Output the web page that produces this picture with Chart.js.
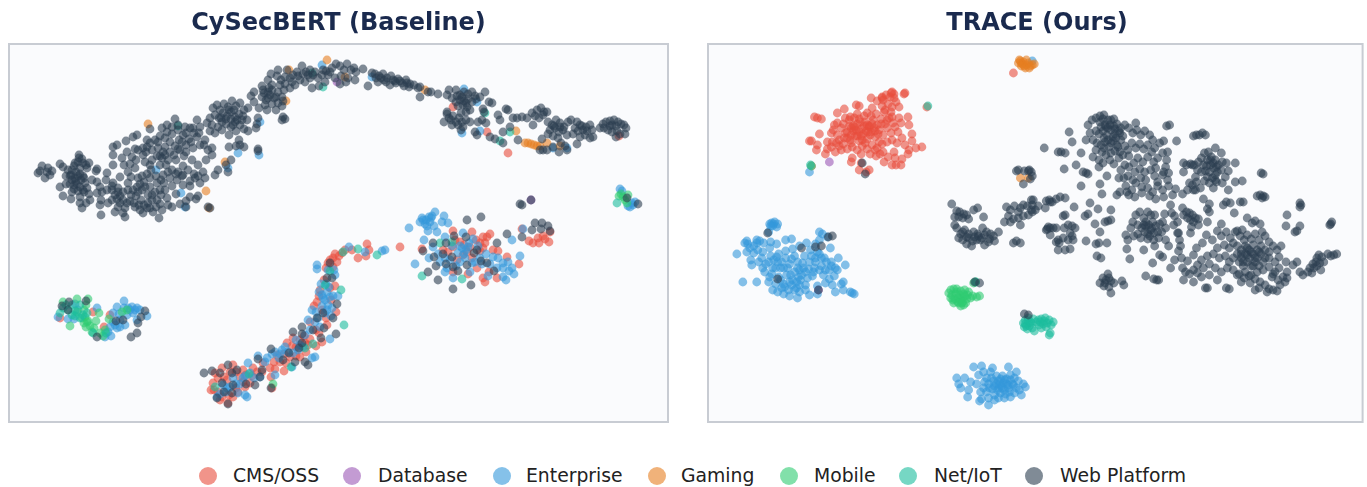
<!DOCTYPE html>
<html>
<head>
<meta charset="utf-8">
<title>CySecBERT vs TRACE</title>
<script src="https://cdn.jsdelivr.net/npm/chart.js@4/dist/chart.umd.min.js"></script>
<style>
  body { margin: 0; background: #fff; font-family: "DejaVu Sans", sans-serif; }
  .panel { position: absolute; top: 0; height: 440px; }
  #legend span { position: absolute; top: 465px; font-size: 18.8px; line-height: 22px; color: #222; white-space: nowrap; }
  #legend i { position: absolute; top: 467px; width: 18px; height: 18px; border-radius: 50%; }
</style>
</head>
<body>
<div class="panel" style="left:0;width:678px"><canvas id="left"></canvas></div>
<div class="panel" style="left:698px;width:669px"><canvas id="right"></canvas></div>
<div id="legend"></div>
<script>
const categories = ["CMS/OSS", "Database", "Enterprise", "Gaming", "Mobile", "Net/IoT", "Web Platform"];
const colors = ["231,76,60", "155,89,182", "52,152,219", "230,126,34", "46,204,113", "26,188,156", "44,62,80"];
const titles = ["CySecBERT (Baseline)", "TRACE (Ours)"];

// embedding coordinates (y grows downwards)
const baseCms = [[333,258],[337,262],[333,267],[339,256],[328,263],[320,290],[317,302],[322,310],[331,300],[326,318],[336,312],[322,342],[310,339],[316,330],[293,338],[287,343],[300,357],[280,362],[263,363],[253,368],[243,370],[233,365],[275,369],[284,371],[271,377],[215,373],[213,383],[211,390],[227,380],[245,387],[233,397],[228,403],[220,400],[240,377],[250,383],[272,388],[222,368],[238,392],[296,347],[306,352],[290,357],[277,355],[257,372],[218,392],[224,377],[246,375],[310,322],[304,336],[316,346],
  [335,254],[342,253],[330,260],[326,268],[345,250],[352,250],[324,280],[319,296],[314,306],[330,288],[335,286],[327,325],[319,333],[308,345],[300,340],[292,346],[284,354],[270,368],[262,372],[252,376],[236,372],[230,372],[218,378],[214,390],[222,397],[236,388],[243,382],[229,395],[296,356],[286,363],[274,362],[305,343],
  [400,247],[483,237],[487,237],[490,234],[472,232],[453,231],[422,249],[443,250],[460,242],[480,243],[483,248],[493,250],[498,251],[467,252],[453,247],[457,260],[477,268],[468,274],[483,278],[497,278],[519,264],[507,257],[489,272],[453,272],[529,241],[538,238],[539,243],[545,239],[549,242],[550,232],[522,229],[367,244],[369,250],[366,256],[358,258],[464,245],[470,247],[448,252],[476,240],[485,243],[480,251],[455,240],[463,255],[472,258],[485,282],[543,236],[533,243],
  [60,318],[93,312],[110,315],[104,327],[453,107],[487,132],[508,153],[619,136]];
const baseDb = [[337,82],[531,200]];
const baseEnt = [[317,265],[317,269],[327,292],[330,297],[322,295],[328,305],[312,310],[325,313],[308,320],[320,327],[330,339],[315,357],[312,358],[300,345],[293,353],[282,350],[275,352],[267,358],[258,356],[248,363],[275,375],[260,377],[250,373],[238,393],[247,397],[230,387],[217,397],[223,385],[292,367],[328,270],[335,275],[319,292],[325,300],[332,308],[318,318],[305,335],[296,340],[288,352],[279,358],[243,378],[233,378],[227,388],[240,384],[326,284],[338,296],
  [329,287],[323,298],[327,310],[333,296],[322,306],[315,322],[310,330],[303,347],[298,350],[285,347],[280,354],[272,354],[265,362],[254,378],[245,376],[236,384],[226,392],[220,394],[245,395],[334,270],[321,284],[331,316],[316,312],
  [435,212],[422,218],[420,222],[426,220],[430,222],[428,231],[437,232],[442,222],[444,216],[448,223],[409,228],[424,240],[415,264],[433,247],[429,258],[445,272],[453,278],[445,237],[463,233],[473,239],[462,248],[458,253],[465,258],[470,272],[480,258],[493,257],[498,258],[497,268],[503,268],[508,262],[512,268],[514,274],[503,277],[506,280],[488,276],[520,256],[512,240],[523,229],[385,250],[382,251],[365,252],[349,247],[432,216],[425,224],[429,217],[434,226],[438,254],[450,260],[456,266],[452,246],[469,243],[475,262],[486,254],[468,247],[460,262],[445,258],[503,263],[509,271],[478,246],
  [431,218],[427,226],[423,220],[466,250],[460,246],[464,254],[472,263],[440,262],[447,268],[482,264],[490,264],
  [58,317],[68,319],[78,310],[74,319],[97,308],[124,301],[117,307],[113,313],[132,307],[137,308],[133,313],[147,316],[117,328],[125,325],[111,336],[105,337],[120,320],[115,325],[137,320],[128,308],[140,310],[75,304],[127,315],[119,314],[110,327],[130,310],[135,310],[124,308],[113,322],[120,327],[108,332],
  [620,189],[622,191],[632,203],[635,202],[630,207],[633,205],[628,206],
  [156,170],[181,193],[185,207],[238,153],[259,155],[260,122],[322,65],[228,168],[464,89],[477,102],[462,133],[480,131],[372,77],[553,148],[567,148]];
const baseGame = [[148,124],[206,191],[225,162],[209,208],[286,101],[289,70],[327,60],[525,143],[528,143],[531,144],[534,145],[537,146],[540,146],[547,143],[560,146],[516,131],[425,90],[345,77]];
const baseMob = [[63,302],[77,299],[88,299],[86,305],[70,326],[82,318],[86,327],[99,313],[96,321],[92,332],[105,330],[109,319],[122,312],[127,310],[85,317],[88,321],[103,336],[77,312],[84,310],[90,326],[100,333],[87,322],[84,323],[94,328],[619,196],[628,195],[627,203],[623,197],[625,200],[621,194],[273,384]];
const baseNet = [[60,313],[63,308],[72,305],[72,315],[80,318],[87,313],[68,310],[93,333],[106,333],[75,311],[80,305],[66,305],[75,316],[83,315],[617,203],[249,374],[215,387],[313,344],[291,367],[305,348],[330,271],[325,285],[422,276],[462,279],[452,242],[440,243],[377,255],[358,249],[343,252],[344,325],[341,290],[178,126],[323,87],[312,73],[485,113],[500,141],[510,132]];
const baseWeb = [[38,173],[40,171],[42,166],[48,168],[50,175],[45,178],[47,172],[52,171],[60,164],[63,167],[68,170],[72,180],[79,155],[79,158],[75,163],[83,163],[89,163],[80,168],[87,168],[97,169],[96,171],[74,185],[80,187],[87,188],[60,187],[63,196],[71,199],[80,197],[80,203],[82,208],[90,200],[86,203],[97,182],[100,187],[97,193],[101,200],[100,205],[101,215],[107,173],[106,180],[113,165],[113,183],[115,195],[108,203],[115,212],[123,213],[125,217],[120,177],[128,183],[137,187],[127,203],[135,207],[140,210],[147,208],[143,213],[159,218],[153,212],[162,210],[168,205],[172,207],[157,200],[148,195],[157,183],[163,175],[147,174],[135,168],[128,172],[113,155],[113,147],[117,145],[126,141],[133,137],[137,135],[132,157],[143,155],[143,148],[135,149],[147,140],[150,129],[162,128],[175,119],[167,125],[185,127],[197,120],[193,128],
  [72,170],[76,172],[78,176],[83,176],[71,175],[76,181],[81,180],[85,183],[78,191],[84,192],[77,184],[72,192],[66,176],[66,184],[92,180],[102,192],[107,190],[112,190],[118,188],[120,196],[123,200],[112,200],[118,207],[131,195],[136,196],[142,190],[141,200],[148,203],[152,200],[155,192],[161,195],[165,190],[150,187],[144,182],[138,178],[131,177],[124,165],[130,164],[136,160],[127,152],[122,158],[150,165],[145,162],[152,160],[157,156],[162,158],[166,165],[172,170],[178,172],[170,178],[177,180],[183,185],[190,181],[194,174],[188,170],[183,166],[176,160],[170,152],[165,147],[158,148],[152,150],[147,147],[155,140],[160,136],[167,132],[172,134],[178,130],[183,135],[189,139],[194,133],[200,127],[207,123],[210,131],[205,140],[208,150],[200,145],[193,148],[186,145],[180,150],[184,156],[179,140],[175,146],[170,142],[165,155],[160,165],[192,160],[198,165],[203,172],[206,160],[212,155],[218,170],[215,175],[200,183],[195,178],[210,208],[208,207],[196,199],[198,196],[186,201],[190,197],[186,207],[180,204],[228,172],[226,165],[231,160],[236,146],[240,145],[244,147],[239,140],[229,147],[258,151],[258,149],[283,117],[285,119],[282,120],[282,106],
  [74,166],[78,162],[82,159],[86,165],[70,176],[75,178],[80,174],[84,178],[74,189],[70,184],[83,190],[89,194],[112,186],[118,192],[123,192],[128,190],[133,190],[138,192],[130,201],[134,203],[120,203],[125,208],[117,199],[139,205],[144,205],[150,208],[156,207],[160,204],[152,195],[145,187],[140,184],[150,178],[156,176],[161,180],[168,172],[164,183],[172,186],[176,194],[160,156],[163,152],[168,160],[174,155],[178,149],[182,142],[186,133],[178,125],[172,127],[165,138],[158,142],[150,143],[146,152],[138,150],[186,152],[191,142],[197,137],[204,145],[212,148],[190,128],[199,133],[176,174],[182,176],[190,186],[205,178],[198,176],[183,175],[167,198],[160,190],[142,176],[151,170],
  [213,108],[217,105],[220,110],[224,104],[228,107],[232,101],[236,106],[240,103],[244,110],[248,108],[215,115],[219,118],[223,113],[227,116],[231,112],[235,117],[239,114],[243,116],[247,120],[210,118],[212,125],[218,127],[222,122],[226,124],[231,127],[235,122],[240,125],[244,129],[248,131],[215,133],[222,130],[229,135],[236,131],[258,118],[257,124],[256,128],[263,90],[269,88],[262,97],[266,100],[270,95],[274,98],[278,92],[282,97],[278,103],[272,104],[265,105],[259,108],[254,92],[251,96],[254,102],[283,101],[267,110],[276,110],[284,90],[262,86],[268,80],[271,74],[277,76],[281,80],[285,84],[290,78],[278,70],[287,70],[293,75],[297,72],[302,66],[306,72],[310,70],[315,72],[318,78],[323,70],[328,75],[332,68],[336,64],[340,66],[344,70],
  [229,110],[234,110],[237,120],[226,119],[221,118],[231,119],[233,125],[242,120],[268,92],[264,93],[272,90],[276,97],[268,98],[272,85],[280,85],[285,77],[292,82],[298,76],[303,74],[308,75],[313,75],[322,75],[326,71],[330,72],[290,88],[295,85],[300,80],[305,82],[310,78],[312,88],[319,86],[325,82],[335,78],[341,76],[347,64],[351,70],[354,68],[356,72],[346,82],[340,84],[348,78],[355,80],
  [363,69],[368,86],[372,73],[375,74],[379,76],[383,74],[387,78],[391,76],[395,81],[398,79],[402,83],[406,80],[410,84],[414,85],[418,88],[420,87],[378,82],[384,80],[390,85],[396,83],[404,86],[409,87],[376,78],[381,78],[386,82],[393,80],[400,81],[407,83],[420,97],[428,92],[431,92],[438,94],[447,95],[449,90],[456,90],[460,95],[464,92],[468,94],[472,92],[475,96],[452,98],[456,102],[460,100],[464,101],[468,99],[472,102],[476,99],[480,97],[458,106],[463,105],[467,107],[470,110],[466,112],[462,97],[466,103],[457,96],[485,92],[492,103],[489,102],[483,109],[484,112],[508,110],[506,109],[498,115],[500,120],[447,114],[449,118],[453,116],[456,122],[451,120],[447,112],[461,113],[459,118],[462,122],[466,120],[470,122],[463,127],[461,130],[458,125],[452,125],[444,122],[478,122],[486,123],[482,120],[475,132],[477,135],[490,137],[495,139],[503,143],[503,132],[510,127],[518,140],[513,118],[517,118],[522,117],[527,118],[532,113],[537,110],[541,108],[544,112],[535,116],[539,118],[543,115],[547,112],[533,125],[542,139],[553,147],[540,150],[543,150],[547,150],[559,152],[567,150],[577,144],[548,122],[552,125],[556,120],[560,123],[564,127],[568,122],[571,120],[550,130],[555,128],[559,132],[563,130],[567,135],[553,136],[558,138],[548,134],[573,134],[575,128],[577,122],[580,125],[583,130],[586,127],[590,125],[592,130],[578,131],[580,137],[585,135],[590,138],[593,137],[600,128],[603,124],[606,122],[610,126],[614,120],[618,122],[621,124],[624,125],[626,128],[608,130],[612,132],[604,128],[617,131],[620,134],[625,134],[616,137],[561,143],[565,146],[582,126],[587,131],[612,125],[616,126],[610,121],[554,126],[560,127],
  [520,204],[522,205],[531,200],[467,220],[481,217],[535,223],[542,223],[548,226],[532,230],[541,229],[550,231],[522,237],[507,234],[497,243],[433,243],[446,243],[454,236],[466,237],[477,250],[474,253],[423,251],[443,254],[434,257],[436,266],[446,264],[452,257],[453,267],[458,271],[467,265],[481,261],[487,263],[494,271],[428,272],[438,280],[471,285],[453,289],
  [330,263],[327,278],[332,278],[337,304],[336,334],[317,318],[323,313],[333,318],[324,328],[321,338],[313,330],[302,327],[293,332],[302,334],[302,343],[299,348],[289,353],[283,360],[295,362],[271,349],[305,362],[308,365],[258,359],[228,365],[237,370],[262,370],[260,377],[255,385],[246,384],[232,373],[220,373],[212,371],[204,373],[222,383],[233,385],[224,392],[232,393],[217,398],[228,404],[271,388],
  [62,306],[69,302],[68,310],[86,301],[97,337],[116,321],[123,320],[138,323],[141,317],[145,311],[137,333],[131,337],[627,198],[638,204]];

const traceCms = [[815,117],[818,118],[822,119],[810,141],[812,141],[818,145],[817,150],[820,134],[828,142],[828,149],[826,154],[836,152],[832,133],[835,125],[838,113],[845,109],[851,117],[857,105],[860,106],[858,114],[868,113],[872,98],[873,108],[883,97],[887,95],[893,92],[895,98],[906,93],[900,107],[892,112],[885,112],[900,118],[909,117],[910,125],[902,123],[913,134],[913,141],[923,147],[917,148],[910,150],[909,154],[903,159],[897,165],[902,165],[893,165],[895,152],[885,162],[881,154],[853,158],[852,162],[862,154],[862,163],[860,170],[870,170],[867,172],[928,107],[1015,73],[812,166],
  [834,130],[838,135],[842,128],[846,133],[850,126],[854,131],[858,124],[862,129],[866,122],[870,127],[874,120],[878,125],[882,119],[886,124],[890,118],[894,123],[840,140],[844,144],[848,138],[852,143],[856,136],[860,141],[864,134],[868,139],[872,132],[876,137],[880,130],[884,135],[888,128],[892,133],[896,127],[899,132],[842,150],[848,149],[853,147],[858,150],[863,146],[868,149],[873,145],[878,148],[883,144],[888,142],[893,140],[898,143],[903,138],[906,145],[850,120],[855,118],[860,119],[865,116],[872,116],[877,114],[883,106],[889,104],[893,107],[897,102],[878,101],[884,100],[891,97],[844,124],[838,123],[846,118],[870,126],[862,136],[854,126],[866,143],[875,128],[857,130],[880,142],[869,132],[848,132],[852,135],[876,150],[871,154],[877,156],[884,152],[889,157],[896,158],[840,146],[833,142],
  [855,127],[861,122],[867,131],[873,124],[879,134],[858,136],[865,126],[871,135],[852,128],[876,131],[860,132],[868,125],[845,138],[851,140],[863,140],[882,124],[888,120],[892,93],[895,94],[905,94],[883,98],[886,110],[893,117],[837,143],[832,147]];
const traceDb = [[830,162],[819,290]];
const traceEnt = [[810,172],[1034,61],
  [770,224],[772,223],[775,222],[778,224],[773,226],[777,227],[769,232],[774,224],[771,226],
  [747,241],[748,244],[757,240],[760,241],[764,243],[737,254],[747,252],[754,253],[751,260],[752,265],[757,243],[771,242],[777,244],[786,240],[792,239],[820,232],[823,234],[828,237],[831,248],[839,258],[846,265],[842,284],[844,282],[855,294],[853,293],[851,292],[836,292],[844,290],[833,285],[830,279],[826,283],[818,294],[810,295],[798,298],[784,294],[773,290],[769,282],[757,282],[743,282],[772,274],[779,277],[791,275],[800,270],[806,272],[815,268],[822,266],[830,270],[836,268],[825,258],[818,252],[811,250],[805,256],[798,262],[790,264],[782,262],[776,268],[769,262],[763,268],[771,256],[779,254],[786,251],[793,249],[800,246],[807,243],[816,244],[820,240],[763,252],[770,248],[754,246],[788,268],[795,272],[801,280],[806,285],[790,282],[785,287],[797,288],[776,284],[781,280],[770,277],[813,276],[810,262],[803,263],[832,262],[838,270],[824,275],[816,262],[795,256],[786,258],[778,262],[792,285],[799,277],[773,268],[818,286],[808,278],[835,276],[820,254],
  [745,243],[750,248],[758,250],[762,258],[766,264],[774,260],[781,268],[787,275],[793,280],[800,285],[806,290],[795,290],[789,290],[782,288],[778,292],[814,272],[820,270],[826,270],[832,266],[812,256],[816,258],[804,268],[798,268],[792,259],[784,268],[777,257],[765,272],[759,262],[827,262],[822,258],[809,269],[802,275],[797,282],[784,284],[790,296],[800,292],
  [975,367],[983,366],[1010,367],[958,378],[966,378],[960,384],[962,388],[969,397],[970,390],[981,401],[983,399],[990,405],[996,400],[1000,398],[1006,398],[1012,397],[1023,395],[1027,387],[1025,384],[1018,388],[972,382],[978,384],[980,375],[985,372],[988,378],[992,372],[994,368],[998,376],[1004,376],[1008,379],[1012,375],[1016,378],[1018,372],[1015,385],[1010,385],[1005,383],[1000,381],[995,381],[990,384],[985,388],[982,392],[988,392],[994,389],[1000,388],[1006,390],[1011,392],[1016,393],[1002,393],[996,395],[990,398],[1003,386],[998,384],[1008,384],[1002,379],[996,386],[1006,380],[1012,380],[1020,381],[999,390],[1004,388],[1010,388],[991,388],[986,382],[1014,384],[1007,394],[1001,384],[993,378],[1021,390]];
const traceGame = [[1021,60],[1022,61],[1023,63],[1024,64],[1025,62],[1026,66],[1028,65],[1030,63],[1032,66],[1034,65],[1036,64],[1028,60],[1020,63],[1023,66],[1027,68],[1031,68],[1022,178],[1030,178]];
const traceMob = [[952,290],[955,289],[958,289],[962,291],[966,290],[950,293],[953,295],[957,294],[961,295],[965,294],[969,295],[952,298],[956,299],[960,298],[964,298],[968,299],[972,298],[955,303],[959,302],[963,303],[967,303],[962,306],[965,305],[974,296],[978,297],[981,296],[975,283],[977,282],[812,166],[958,292],[970,292],[954,300],[962,300],[966,296],[960,303],[964,302]];
const traceNet = [[1025,323],[1027,320],[1030,318],[1028,326],[1031,326],[1034,328],[1026,327],[1036,331],[1033,323],[1040,320],[1043,319],[1047,318],[1051,320],[1055,322],[1053,325],[1049,323],[1045,324],[1041,325],[1038,322],[1043,328],[1048,327],[1052,333],[1051,335],[1030,321],[1035,319],[1029,329],[1032,322],[1027,324],[1046,321],[1042,322],[977,282],[811,165],[929,106]];
const traceWeb = [[1071,132],[1074,142],[1046,148],[1060,152],[1063,152],[1067,153],[1083,153],[1078,165],[1066,169],[1085,172],[1088,173],[1090,174],[1101,167],[1109,176],[1083,186],[1102,184],[1104,194],[1119,195],[1092,203],[1100,209],[1113,210],[1076,207],[1087,216],[1090,214],[1065,216],[1067,215],[1070,225],[1072,233],[1074,236],[1097,224],[1107,222],[1110,221],[1113,220],[1102,232],[1088,241],[1109,243],[1098,244],[1101,243],[1058,242],[1061,243],[1060,250],[1067,250],[1072,249],[1099,256],[1103,258],[1129,249],[1146,250],[1132,259],[1155,263],[1162,255],[1165,257],[1177,260],[1173,268],[1148,276],[1156,279],[1159,280],[1161,280],[1113,293],[1124,281],[1126,285],
  [1102,283],[1105,278],[1107,283],[1110,274],[1108,280],[1111,287],[1113,281],[1116,283],[1106,286],[1111,278],
  [1030,171],[1032,179],[1034,176],[1048,201],[1051,200],[1054,202],[1058,199],[1062,197],[1067,198],[1049,229],[1052,228],[1055,228],[1058,228],[1048,230],[1033,200],[1040,206],[1034,205],[1034,212],[1037,210],[1066,228],[1074,226],[1077,228],[1065,238],[1075,240],[1070,240],
  [1018,171],[1020,170],[1026,171],[1031,170],[1025,184],[1033,172],
  [953,204],[958,211],[961,212],[965,214],[968,215],[956,217],[960,217],[964,218],[970,219],[975,210],[979,208],[985,217],[956,225],[958,228],[962,234],[966,230],[960,238],[964,240],[970,234],[975,232],[979,234],[984,228],[988,232],[992,234],[995,236],[968,244],[973,246],[978,240],[982,240],[986,245],[991,239],[996,241],[1000,232],[968,237],[976,237],[983,238],[990,242],[964,232],[970,238],[974,241],[980,236],[986,235],[1015,243],[1018,241],[1022,243],[1008,207],[1012,210],[1016,206],[1022,208],[1025,205],[1029,206],[1033,210],[1020,212],[1010,216],[1015,219],[1020,218],[1025,216],[1030,215],[1006,222],[1012,222],[1022,225],[1035,200],[1052,202],[1047,208],[1050,227],[1052,235],[1060,240],
  [1090,125],[1094,120],[1098,118],[1102,122],[1102,116],[1106,115],[1110,120],[1103,127],[1107,125],[1098,131],[1101,134],[1105,131],[1109,135],[1113,130],[1117,134],[1121,131],[1125,136],[1112,125],[1116,126],[1119,124],[1123,128],[1127,125],[1131,128],[1135,133],[1139,130],[1143,135],[1147,131],[1152,135],[1155,140],[1092,133],[1088,140],[1095,140],[1099,143],[1103,145],[1107,142],[1111,147],[1115,141],[1119,145],[1123,140],[1127,146],[1122,152],[1117,151],[1113,153],[1108,155],[1104,152],[1098,150],[1095,157],[1101,160],[1105,163],[1112,160],[1116,164],[1121,158],[1125,155],[1130,150],[1134,143],[1138,148],[1142,144],[1146,149],[1150,145],[1154,152],[1157,148],[1162,143],[1166,141],[1160,158],[1156,162],[1150,157],[1145,162],[1140,158],[1136,163],[1131,167],[1127,165],[1123,170],[1131,156],[1137,172],[1142,169],[1147,172],[1153,170],[1158,168],[1165,153],[1169,160],[1171,173],[1168,167],[1165,175],[1157,176],[1160,182],[1148,180],[1143,178],[1135,180],[1130,176],[1126,178],[1121,178],[1128,186],[1134,190],[1138,183],[1144,187],[1150,188],[1155,192],[1160,186],[1165,190],[1129,192],[1122,192],[1131,195],[1137,197],[1144,193],[1152,196],[1158,199],
  [1166,172],[1170,180],[1171,186],[1178,189],[1166,197],[1175,195],[1185,194],[1190,190],[1195,185],[1198,190],
  [1197,165],[1201,162],[1204,158],[1207,153],[1211,152],[1218,148],[1224,153],[1206,165],[1210,160],[1214,157],[1218,160],[1221,165],[1225,162],[1229,163],[1213,165],[1208,171],[1212,172],[1216,168],[1220,172],[1224,170],[1210,177],[1215,178],[1218,175],[1228,177],[1231,171],[1200,170],[1204,172],[1189,165],[1186,163],[1193,164],[1198,177],[1186,172],[1192,183],[1199,182],[1207,181],[1212,183],[1219,182],[1218,180],[1225,183],[1238,163],[1245,181],[1238,182],[1196,190],[1203,188],[1216,188],[1231,190],[1195,165],
  [1264,173],[1266,174],[1138,123],[1169,126],[1172,125],[1196,136],[1199,135],[1202,135],[1205,133],[1208,135],[1179,141],[1170,152],
  [1260,196],[1263,195],[1266,196],[1268,197],[1265,198],[1243,202],[1246,202],[1229,202],[1233,203],[1303,203],[1304,205],[1303,207],[1290,215],[1334,224],[1333,225],[1335,222],
  [1138,215],[1142,212],[1146,218],[1150,212],[1153,215],[1157,215],[1135,222],[1140,225],[1144,228],[1148,222],[1151,225],[1155,222],[1158,226],[1162,224],[1165,222],[1147,232],[1150,234],[1153,230],[1156,233],[1160,232],[1164,232],[1140,234],[1136,236],[1143,238],[1130,240],[1128,235],[1167,214],[1133,228],[1150,239],[1156,240],[1161,238],[1157,246],[1168,228],[1174,213],[1173,205],[1177,216],[1176,225],[1180,233],[1168,240],[1171,246],
  [1186,215],[1189,212],[1192,213],[1195,215],[1198,218],[1201,219],[1190,218],[1193,220],[1196,222],[1185,208],[1210,209],[1212,212],[1206,199],[1212,204],[1226,205],[1194,227],[1201,225],[1210,222],[1224,224],[1229,232],[1227,245],[1237,213],[1250,218],[1240,231],[1245,230],[1255,223],[1258,221],[1263,224],[1289,226],[1298,232],[1303,226],[1300,231],
  [1180,222],[1182,240],[1181,251],[1181,233],[1193,233],[1183,246],[1184,258],[1190,261],[1196,255],[1199,248],[1205,243],[1209,235],[1215,240],[1220,248],[1224,236],[1220,231],[1233,238],[1236,243],[1232,248],[1238,232],[1243,236],[1247,240],[1250,235],[1254,239],[1258,234],[1262,240],[1265,232],[1268,236],[1272,242],[1276,246],[1280,250],[1284,246],[1272,252],
  [1240,246],[1244,250],[1248,246],[1252,250],[1256,245],[1260,250],[1264,246],[1268,250],[1240,254],[1244,258],[1248,254],[1252,258],[1256,254],[1260,258],[1264,254],[1268,258],[1272,258],[1242,262],[1246,266],[1250,262],[1254,266],[1258,262],[1262,266],[1266,262],[1236,258],[1232,262],[1228,256],[1222,258],[1216,254],[1210,256],[1204,260],[1200,265],[1196,270],[1192,274],[1188,272],[1185,268],[1200,273],[1206,268],[1212,264],[1218,268],[1224,272],[1230,268],[1236,270],[1242,274],[1248,272],[1254,275],[1260,272],[1266,270],[1272,267],[1278,262],[1282,268],[1276,274],[1282,257],[1289,262],[1186,280],[1196,282],[1204,277],[1212,275],[1220,280],[1208,288],[1210,288],[1229,288],[1232,289],[1240,275],[1247,278],[1253,283],[1258,279],[1263,282],[1268,285],[1272,289],[1276,290],[1280,291],[1258,290],[1262,288],[1270,292],[1252,276],[1244,282],[1286,277],[1290,272],[1288,282],[1281,280],[1278,272],[1275,277],[1283,285],[1290,278],
  [1303,272],[1306,275],[1311,272],[1313,268],[1316,264],[1319,262],[1317,268],[1320,266],[1323,263],[1325,257],[1320,258],[1327,262],[1331,254],[1334,256],[1337,255],[1340,254],[1324,270],[1315,273],[1322,255],[1296,265],[1300,262],
  [1105,119],[1108,127],[1113,120],[1116,119],[1110,128],[1115,137],[1110,140],[1118,138],[1106,138],[1122,133],[1113,143],[1120,147],[1106,148],[1117,129],[1254,252],[1250,255],[1246,262],[1258,258],[1262,252],[1256,266],[1244,254],[1250,248],[1154,228],[1148,226],[1152,236],[1146,225],[1213,160],[1216,163],[1209,166],[1219,167],
  [768,233],[802,248],[778,279],[816,247],[822,246],[829,237],[833,236],[819,290],[976,282],[981,283],[1026,314],[1030,315],[863,163],[866,174]];

const plotBack = {
  id: "plotBack",
  beforeDatasetsDraw(chart) {
    const { ctx, chartArea: a } = chart;
    ctx.save();
    ctx.fillStyle = "#fafbfd";
    ctx.fillRect(a.left, a.top, a.width, a.height);
    ctx.strokeStyle = "#c8ccd3";
    ctx.lineWidth = 2;
    ctx.strokeRect(a.left, a.top, a.width, a.height);
    ctx.restore();
  }
};

function drawPanel(id, title, series, xMin, xMax, pad) {
  new Chart(document.getElementById(id), {
    type: "scatter",
    data: {
      datasets: categories.map((name, i) => ({
        label: name,
        data: series[i],
        backgroundColor: "rgba(" + colors[i] + ",0.6)",
        borderWidth: 0,
        pointRadius: 4.4,
        // lower order is drawn on top, Web Platform goes last
        order: categories.length - i
      }))
    },
    options: {
      responsive: false,
      animation: false,
      layout: { padding: pad },
      plugins: {
        legend: { display: false },
        tooltip: { enabled: false },
        title: {
          display: true,
          text: title,
          color: "#1a2a4e",
          font: { family: "DejaVu Sans", size: 24, weight: "bold", lineHeight: 1.2 },
          padding: { top: 9.8, bottom: 5.4 }
        }
      },
      scales: {
        x: { display: false, min: xMin, max: xMax },
        y: { display: false, min: 44, max: 422, reverse: true }
      }
    },
    plugins: [plotBack]
  });
}

function setSize(id, w, h) {
  const c = document.getElementById(id);
  c.width = w; c.height = h;
  c.style.width = w + "px"; c.style.height = h + "px";
}
setSize("left", 678, 440);
setSize("right", 669, 440);

drawPanel("left", titles[0], [baseCms, baseDb, baseEnt, baseGame, baseMob, baseNet, baseWeb], 9, 668, { left: 9, right: 10, bottom: 18 });
drawPanel("right", titles[1], [traceCms, traceDb, traceEnt, traceGame, traceMob, traceNet, traceWeb], 708, 1366, { left: 10, right: 1, bottom: 18 });

// shared legend under both panels
const legendSwatchX = [199, 343, 493, 648, 780, 899, 1025];
const legendTextX = [233, 378, 526, 681, 814, 934, 1060];
const legend = document.getElementById("legend");
categories.forEach((name, i) => {
  const dot = document.createElement("i");
  dot.style.left = legendSwatchX[i] + "px";
  dot.style.background = "rgba(" + colors[i] + ",0.6)";
  const label = document.createElement("span");
  label.style.left = legendTextX[i] + "px";
  label.textContent = name;
  legend.append(dot, label);
});
</script>
</body>
</html>
